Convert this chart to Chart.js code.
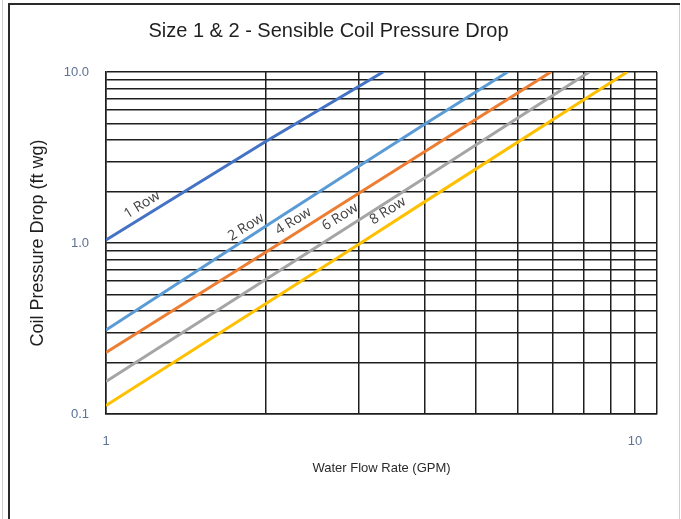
<!DOCTYPE html>
<html>
<head>
<meta charset="utf-8">
<script src="https://cdn.jsdelivr.net/npm/chart.js@4.4.1/dist/chart.umd.min.js"></script>
<style>
    html, body { margin: 0; padding: 0; background: #ffffff; }
    #wrap { width: 681px; height: 519px; position: relative; }
</style>
</head>
<body>
<div id="wrap"><canvas id="chart" width="681" height="519"></canvas></div>
<script>
// Readings (GPM -> ft wg), log-log
const row1Flow = [1, 2, 3.34];
const row1Drop = [1.04, 3.91, 10];
const row2Flow = [1, 2, 3, 4, 5.74];
const row2Drop = [0.31, 1.25, 2.8, 4.95, 10];
const row4Flow = [1, 2, 3, 4, 6.93];
const row4Drop = [0.229, 0.88, 1.95, 3.42, 10];
const row6Flow = [1, 2, 3, 4, 8.19];
const row6Drop = [0.155, 0.61, 1.36, 2.4, 10];
const row8Flow = [1, 2, 3, 4, 9.66];
const row8Drop = [0.112, 0.44, 0.98, 1.74, 10];

const seriesNames = ['1 Row', '2 Row', '4 Row', '6 Row', '8 Row'];
const seriesColors = ['#4472C4', '#5B9BD5', '#ED7D31', '#A5A5A5', '#FFC000'];

// grid lines of the log paper, and which of them carry a label
const xGridValues = [1, 2, 3, 4, 5, 6, 7, 8, 9, 10, 11];
const xTickLabels = { 1: '1', 10: '10' };
const yGridValues = [0.1, 0.2, 0.3, 0.4, 0.5, 0.6, 0.7, 0.8, 0.9, 1, 2, 3, 4, 5, 6, 7, 8, 9, 10];
const yTickLabels = { 0.1: '0.1', 1: '1.0', 10: '10.0' };

// where each line's name sits (in data units)
const labelFlow = [1.17, 1.84, 2.26, 2.77, 3.41];
const labelDrop = [1.67, 1.24, 1.34, 1.42, 1.54];

const toPoints = (xs, ys) => xs.map((x, i) => ({ x: x, y: ys[i] }));
const pairs = [
    [row1Flow, row1Drop],
    [row2Flow, row2Drop],
    [row4Flow, row4Drop],
    [row6Flow, row6Drop],
    [row8Flow, row8Drop]
];

const datasets = pairs.map((p, i) => ({
    label: seriesNames[i],
    data: toPoints(p[0], p[1]),
    borderColor: seriesColors[i],
    backgroundColor: seriesColors[i],
    borderWidth: 3,
    pointRadius: 0,
    tension: 0
}));

/**
 * Outer frame of the picture
 */
const framePlugin = {
    id: 'frame',
    beforeDraw(chart) {
        const ctx = chart.ctx;
        ctx.save();
        ctx.fillStyle = '#ffffff';
        ctx.fillRect(0, 0, chart.width, chart.height);
        ctx.strokeStyle = '#cfcfcf';
        ctx.lineWidth = 1;
        ctx.beginPath();
        ctx.moveTo(2.5, 0);
        ctx.lineTo(2.5, chart.height);
        ctx.moveTo(679.5, 3);
        ctx.lineTo(679.5, chart.height);
        ctx.stroke();
        ctx.strokeStyle = '#2a2a2a';
        ctx.lineWidth = 2;
        ctx.beginPath();
        ctx.moveTo(9, chart.height);
        ctx.lineTo(9, 4);
        ctx.lineTo(680, 4);
        ctx.stroke();
        ctx.restore();
    }
};

/**
 * Rotated series names along the lines
 */
const lineLabelPlugin = {
    id: 'lineLabels',
    afterDatasetsDraw(chart) {
        const ctx = chart.ctx;
        const xs = chart.scales.x;
        const ys = chart.scales.y;
        ctx.save();
        ctx.font = '14px "Open Sans", "DejaVu Sans", sans-serif';
        ctx.fillStyle = '#404040';
        ctx.textAlign = 'center';
        ctx.textBaseline = 'middle';
        seriesNames.forEach((name, i) => {
            ctx.save();
            ctx.translate(xs.getPixelForValue(labelFlow[i]), ys.getPixelForValue(labelDrop[i]));
            ctx.rotate(-32 * Math.PI / 180);
            ctx.fillText(name, 0, 0);
            ctx.restore();
        });
        ctx.restore();
    }
};

const tickColor = '#5f7196';
const gridColor = '#1e1e1e';

new Chart(document.getElementById('chart'), {
    type: 'line',
    data: { datasets: datasets },
    options: {
        responsive: false,
        animation: false,
        layout: { padding: { left: 0, right: 24, top: 0, bottom: 0 } },
        plugins: {
            legend: { display: false },
            tooltip: { enabled: false },
            title: {
                display: true,
                text: 'Size 1 & 2 - Sensible Coil Pressure Drop',
                color: '#1f1f1f',
                font: { family: 'Liberation Sans, Arial, sans-serif', size: 20, weight: 'normal', lineHeight: 1.2 },
                padding: { top: 19, bottom: 29 }
            }
        },
        scales: {
            x: {
                type: 'logarithmic',
                min: 1,
                max: 11,
                afterBuildTicks: (scale) => {
                    scale.ticks = xGridValues.map(v => ({ value: v }));
                },
                afterFit: (scale) => { scale.height = 105; },
                grid: { color: gridColor, lineWidth: 1.5, drawTicks: false },
                border: { color: gridColor, width: 1.5 },
                ticks: {
                    autoSkip: false,
                    maxRotation: 0,
                    padding: 20,
                    color: tickColor,
                    font: { family: 'Liberation Sans, Arial, sans-serif', size: 13 },
                    callback: (v) => xTickLabels[v] || ''
                },
                title: {
                    display: true,
                    text: 'Water Flow Rate (GPM)',
                    color: '#2a2a2a',
                    font: { family: 'Liberation Sans, Arial, sans-serif', size: 13, lineHeight: 1.2 },
                    padding: { top: 0, bottom: 43 }
                }
            },
            y: {
                type: 'logarithmic',
                min: 0.1,
                max: 10,
                afterBuildTicks: (scale) => {
                    scale.ticks = yGridValues.map(v => ({ value: v }));
                },
                afterFit: (scale) => { scale.width = 106; },
                grid: { color: gridColor, lineWidth: 1.5, drawTicks: false },
                border: { color: gridColor, width: 1.5 },
                ticks: {
                    autoSkip: false,
                    padding: 17,
                    color: tickColor,
                    font: { family: 'Liberation Sans, Arial, sans-serif', size: 13 },
                    callback: (v) => yTickLabels[v] || ''
                },
                title: {
                    display: true,
                    text: 'Coil Pressure Drop (ft wg)',
                    color: '#1f1f1f',
                    font: { family: 'Liberation Sans, Arial, sans-serif', size: 18, lineHeight: 1.2 },
                    padding: { top: 27, bottom: 0 }
                }
            }
        }
    },
    plugins: [framePlugin, lineLabelPlugin]
});
</script>
</body>
</html>
